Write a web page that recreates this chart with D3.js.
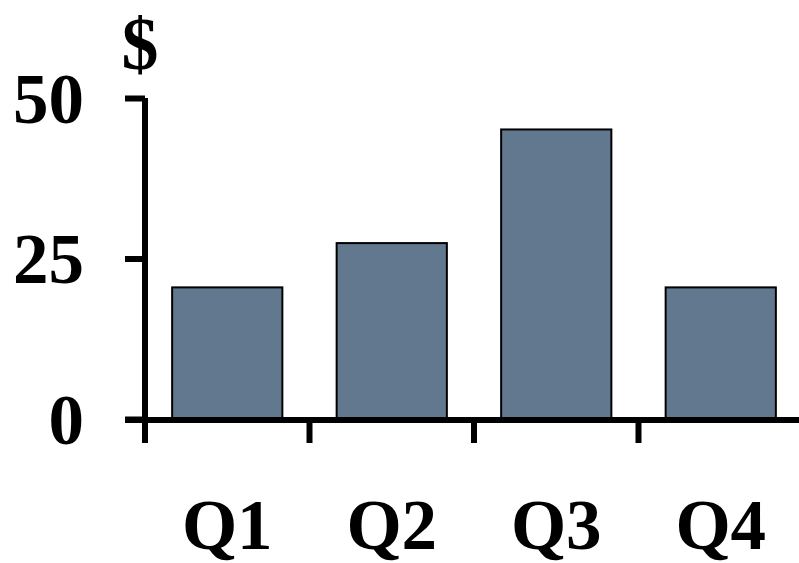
<!DOCTYPE html>
<html>
<head>
<meta charset="utf-8">
<script src="https://cdn.jsdelivr.net/npm/d3@7"></script>
<style>
  html, body { margin: 0; padding: 0; background: #fff; }
  svg { display: block; }
  text { font-family: "Liberation Serif", "Tinos", "Times New Roman", Times, serif; font-weight: bold; fill: #000; }
</style>
</head>
<body>
<svg id="chart" width="799" height="563"></svg>
<script>
const categories = ["Q1", "Q2", "Q3", "Q4"];
const values = [20.5, 27.4, 45.1, 20.5];
const yTicks = [0, 25, 50];
const yUnit = "$";

const W = 799, H = 563;
const FONT = '"Liberation Serif", "Tinos", "Times New Roman", Times, serif';
const svg = d3.select("#chart");

const x = d3.scaleBand().domain(categories).range([145, 803]).paddingInner(0).paddingOuter(0);
const y = d3.scaleLinear().domain([0, 50]).range([419, 98]);
const barFrac = 0.67;
const bw = x.bandwidth() * barFrac;

// bars
svg.append("g").selectAll("rect").data(categories).join("rect")
  .attr("x", d => x(d) + (x.bandwidth() - bw) / 2)
  .attr("y", (d, i) => y(values[i]))
  .attr("width", bw)
  .attr("height", (d, i) => y(0) - y(values[i]))
  .attr("fill", "#62788e")
  .attr("stroke", "#000")
  .attr("stroke-width", 2);

// y axis
const yAxis = d3.axisLeft(y).tickValues(yTicks).tickSize(20).tickPadding(41).tickSizeOuter(0);
const gy = svg.append("g").attr("transform", "translate(145,0)").call(yAxis);
gy.attr("font-family", null).attr("font-size", null);
gy.select(".domain").remove();
gy.selectAll(".tick line").attr("stroke", "#000").attr("stroke-width", 6);
gy.selectAll(".tick text")
  .attr("dy", null)
  .attr("y", 24)
  .style("font-family", FONT)
  .style("font-weight", "bold")
  .style("font-size", "71px")
  .attr("fill", "#000");

// y axis line
svg.append("line")
  .attr("x1", 145).attr("x2", 145)
  .attr("y1", y(50)).attr("y2", y(0) + 24)
  .attr("stroke", "#000").attr("stroke-width", 6);

// x axis line
svg.append("line")
  .attr("x1", 125).attr("x2", W)
  .attr("y1", y(0) + 1).attr("y2", y(0) + 1)
  .attr("stroke", "#000").attr("stroke-width", 6);

// x boundary ticks
svg.append("g").selectAll("line").data(categories).join("line")
  .attr("x1", d => x(d)).attr("x2", d => x(d))
  .attr("y1", y(0)).attr("y2", y(0) + 24)
  .attr("stroke", "#000").attr("stroke-width", 6);

// x labels
svg.append("g").selectAll("text").data(categories).join("text")
  .attr("x", d => x(d) + x.bandwidth() / 2)
  .attr("y", 549)
  .attr("text-anchor", "middle")
  .style("font-family", FONT)
  .style("font-size", "71px")
  .text(d => d);

// unit label
svg.append("text")
  .attr("x", 140)
  .attr("y", 69)
  .attr("text-anchor", "middle")
  .style("font-family", FONT)
  .style("font-size", "74px")
  .text(yUnit);
</script>
</body>
</html>
